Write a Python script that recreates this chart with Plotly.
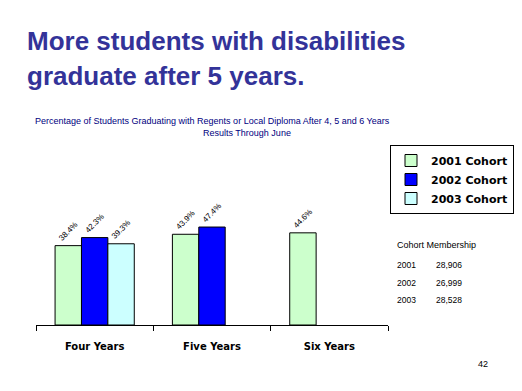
import plotly.graph_objects as go

categories = ["Four Years", "Five Years", "Six Years"]
series_names = ["2001 Cohort", "2002 Cohort", "2003 Cohort"]
cohort_2001 = [38.4, 43.9, 44.6]
cohort_2002 = [42.3, 47.4, None]
cohort_2003 = [39.3, None, None]
colors = ["#CCFFCC", "#0000FF", "#CCFFFF"]

member_years = ["2001", "2002", "2003"]
member_counts = ["28,906", "26,999", "28,528"]

# page is offset by the default 8px body margin
OFF = 8
W, H = 522 - OFF, 391 - OFF
PLOT_L, PLOT_R, PLOT_T, PLOT_B = 36, 388, 201, 325   # page coords
L = PLOT_L - OFF
R = W - (PLOT_R - OFF)
T = PLOT_T - OFF
B = H - (PLOT_B - OFF)
PW, PH = PLOT_R - PLOT_L, PLOT_B - PLOT_T
YMAX = 60

def xp(px):
    return (px - PLOT_L) / PW

def yp(py):
    return (PLOT_B - py) / PH

FONT = "Liberation Sans, Arial, sans-serif"
BOLDFONT = "DejaVu Sans, sans-serif"

fig = go.Figure()
for name, vals, col in zip(series_names, [cohort_2001, cohort_2002, cohort_2003], colors):
    fig.add_trace(go.Bar(
        x=categories, y=vals, name=name,
        marker=dict(color=col, line=dict(color="black", width=1)),
        text=[f"{v:.1f}%" if v is not None else "" for v in vals],
        textposition="outside", textangle=-45,
        textfont=dict(family=FONT, size=8, color="black"),
        cliponaxis=False,
    ))

annotations = [
    dict(text="More students with disabilities", x=xp(25), y=yp(41), xanchor="left", yanchor="middle",
         font=dict(family=FONT, size=26, color="#333399", weight="bold")),
    dict(text="graduate after 5 years.", x=xp(25), y=yp(76), xanchor="left", yanchor="middle",
         font=dict(family=FONT, size=26, color="#333399", weight="bold")),
    dict(text="Percentage of Students Graduating with Regents or Local Diploma After 4, 5 and 6 Years",
         x=xp(212), y=yp(121), xanchor="center", yanchor="middle",
         font=dict(family=FONT, size=9, color="#000080")),
    dict(text="Results Through June", x=xp(247), y=yp(133), xanchor="center", yanchor="middle",
         font=dict(family=FONT, size=9, color="#000080")),
    dict(text="Cohort Membership", x=xp(395), y=yp(245), xanchor="left", yanchor="middle",
         font=dict(family=FONT, size=9, color="black")),
    dict(text="42", x=xp(490), y=yp(364), xanchor="right", yanchor="middle",
         font=dict(family=FONT, size=9, color="black")),
]
row_y = [265, 283, 300]
for yr, cnt, ry in zip(member_years, member_counts, row_y):
    annotations.append(dict(text=yr, x=xp(395), y=yp(ry), xanchor="left", yanchor="middle",
                            font=dict(family=FONT, size=8.5, color="black")))
    annotations.append(dict(text=cnt, x=xp(434), y=yp(ry), xanchor="left", yanchor="middle",
                            font=dict(family=FONT, size=8.5, color="black")))
for a in annotations:
    a.update(xref="paper", yref="paper", showarrow=False)

fig.update_layout(
    width=W, height=H,
    margin=dict(l=L, r=R, t=T, b=B, autoexpand=False),
    paper_bgcolor="white", plot_bgcolor="white",
    barmode="group", bargap=0.325, bargroupgap=0,
    showlegend=True,
    legend=dict(x=xp(390), y=yp(145), xanchor="left", yanchor="top",
                bordercolor="black", borderwidth=1, bgcolor="white",
                font=dict(family=BOLDFONT, size=11, color="black", weight="bold"),
                itemwidth=30, tracegroupgap=0),
    xaxis=dict(showline=True, linecolor="black", linewidth=1, ticks="outside",
               tickson="boundaries", ticklen=5, tickcolor="black",
               ticklabelstandoff=12,
               tickfont=dict(family=BOLDFONT, size=10, color="black", weight="bold"),
               showgrid=False, zeroline=False),
    yaxis=dict(range=[0, YMAX], visible=False, showgrid=False, zeroline=False),
    annotations=annotations,
    font=dict(family=FONT),
)

fig.write_html("out.html")
